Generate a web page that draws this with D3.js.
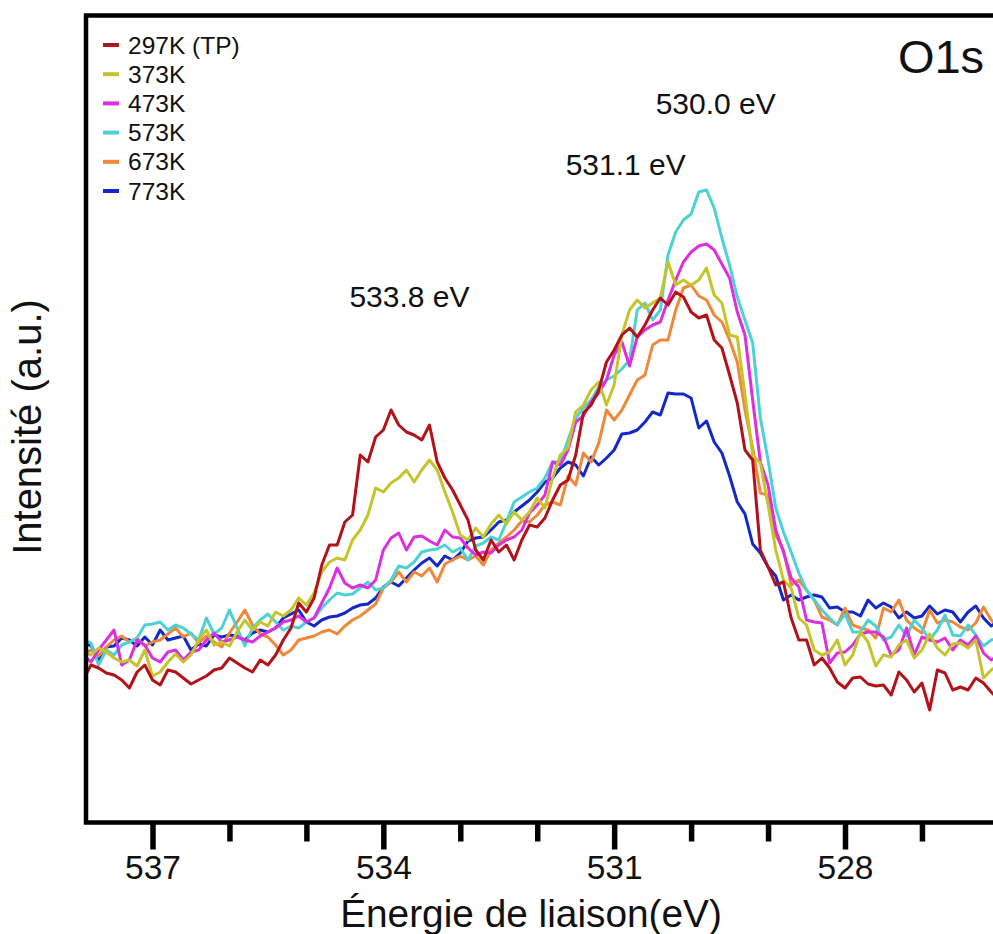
<!DOCTYPE html>
<html>
<head>
<meta charset="utf-8">
<script src="https://cdn.jsdelivr.net/npm/d3@7/dist/d3.min.js"></script>
<style>
  html, body { margin: 0; padding: 0; background: #fff; }
  svg { display: block; font-family: "Liberation Sans", Arial, Helvetica, sans-serif; }
</style>
</head>
<body>
<svg id="chart" width="993" height="934"></svg>
<script>
// O1s XPS spectra recorded after annealing at increasing temperatures.
// Binding energy grid: 537.9 eV down to 526.0 eV in 0.1 eV steps.
const energyStart = 537.9;
const energyStep = 0.1;

const seriesNames = ["297K (TP)", "373K", "473K", "573K", "673K", "773K"];
const seriesColors = ["#b3121a", "#c3c52a", "#dd2ee0", "#4cd2d4", "#f0883a", "#1228c8"];

// Intensities (a.u.)
const i297 = [
  142,157,154,149,147,142,134,150,157,142,
  137,152,150,144,138,142,146,152,154,164,
  159,154,150,162,157,167,182,194,219,210,
  224,257,277,277,300,307,367,360,385,392,
  412,397,390,387,382,397,360,344,332,317,
  302,272,262,282,270,277,262,282,297,295,
  304,322,337,342,367,409,417,432,460,472,
  487,494,485,497,512,524,517,530,525,510,
  504,507,482,474,447,419,372,362,272,255,
  237,240,204,182,182,157,164,154,140,134,
  144,145,138,136,137,127,150,142,130,139,
  112,152,149,132,135,132,144,139,130,122
];
const i373 = [
  170,167,174,170,164,160,162,156,172,146,
  150,160,168,160,167,182,192,177,180,176,
  190,202,192,200,196,210,206,212,224,217,
  229,250,260,264,262,282,292,307,334,330,
  339,344,352,340,352,362,352,330,310,287,
  282,294,285,298,307,298,310,302,310,324,
  314,344,367,374,410,417,432,440,417,437,
  487,512,522,514,519,524,560,537,542,537,
  542,554,527,519,487,485,427,367,359,317,
  272,242,234,204,197,172,167,170,182,157,
  167,190,180,156,167,165,177,182,164,172,
  188,174,167,178,179,174,182,144,152,157
];
const i473 = [
  167,160,172,182,192,157,162,182,177,164,
  160,170,172,162,170,172,182,189,180,182,
  185,182,180,186,190,194,200,202,206,200,
  204,219,234,254,239,234,237,234,242,272,
  284,289,272,285,286,281,277,292,285,284,
  274,267,270,269,277,282,285,292,309,317,
  327,360,357,372,400,406,420,429,442,467,
  480,456,485,492,497,500,522,542,560,570,
  576,578,572,558,544,510,487,422,360,337,
  292,270,244,235,202,200,199,159,169,170,
  177,188,190,190,185,167,172,194,167,185,
  182,180,184,172,182,177,186,169,162,167
];
const i573 = [
  182,179,157,172,167,177,180,184,197,198,
  200,192,197,194,188,182,204,188,194,212,
  194,176,194,202,208,200,192,196,194,200,
  204,214,222,229,227,228,234,240,232,234,
  242,256,254,260,270,272,273,277,270,274,
  262,276,279,285,282,300,320,325,330,334,
  344,360,360,382,404,414,422,435,442,446,
  453,462,512,519,502,512,567,590,602,608,
  630,632,614,584,557,525,502,479,404,362,
  314,290,270,249,232,222,212,204,197,208,
  190,190,202,196,182,185,197,186,202,194,
  182,192,207,187,186,197,187,176,182,184
];
const i673 = [
  167,172,166,175,182,186,180,184,176,180,
  182,188,194,185,189,179,186,180,175,189,
  200,212,197,188,185,177,167,172,182,184,
  186,190,192,188,196,202,206,212,218,234,
  240,250,240,250,246,254,240,258,262,266,
  262,266,257,272,279,285,292,301,300,307,
  317,320,317,346,337,369,360,379,412,402,
  412,427,442,447,477,482,482,512,534,537,
  526,522,507,500,482,460,412,374,329,327,
  287,272,237,242,232,222,205,202,197,214,
  197,194,192,184,214,210,222,202,194,189,
  212,199,202,200,195,192,199,215,202,195
];
const i773 = [
  177,177,162,175,176,184,182,176,185,177,
  192,182,184,186,172,178,176,187,185,187,
  186,182,189,192,190,194,204,208,212,200,
  196,202,205,206,209,214,217,218,224,235,
  240,236,244,252,259,264,256,266,262,269,
  281,284,285,292,300,302,310,316,322,330,
  340,344,354,360,357,346,365,357,364,372,
  388,389,392,400,410,407,429,428,428,424,
  394,401,380,369,346,320,308,278,269,255,
  246,222,227,222,225,227,225,214,215,210,
  210,206,222,214,219,215,204,210,204,206,
  216,208,212,210,200,210,216,204,196,202
];
const seriesValues = [i297, i373, i473, i573, i673, i773];

const majorTicks = [537, 534, 531, 528];
const minorTicks = [536, 535, 533, 532, 530, 529, 527];

const peakLabels = [
  { text: "530.0 eV", energy: 529.68, level: 708 },
  { text: "531.1 eV", energy: 530.85, level: 647 },
  { text: "533.8 eV", energy: 533.66, level: 515 }
];

// ---- layout ----
const svg = d3.select("#chart");
const plot = { left: 86, top: 15.5, bottom: 822.5, right: 1010 };

const x = d3.scaleLinear().domain([537, 528]).range([152.5, 845]);
const y = d3.scaleLinear().domain([0, 808]).range([822, 14]);

svg.append("defs").append("clipPath").attr("id", "plotClip")
  .append("rect")
  .attr("x", plot.left + 2).attr("y", plot.top + 2)
  .attr("width", plot.right - plot.left).attr("height", plot.bottom - plot.top - 4);

// spectra (highest temperature drawn first, room temperature on top)
const line = d3.line()
  .x((d, i) => x(energyStart - energyStep * i))
  .y(d => y(d));

const curves = svg.append("g").attr("clip-path", "url(#plotClip)");
for (let k = seriesValues.length - 1; k >= 0; k--) {
  curves.append("path")
    .datum(seriesValues[k])
    .attr("fill", "none")
    .attr("stroke", seriesColors[k])
    .attr("stroke-width", 3)
    .attr("stroke-linejoin", "round")
    .attr("d", line);
}

// frame (right side runs past the visible area)
svg.append("path")
  .attr("d", `M${plot.right},${plot.top}H${plot.left}V${plot.bottom}H${plot.right}`)
  .attr("fill", "none")
  .attr("stroke", "#000")
  .attr("stroke-width", 4.5);

// bottom axis: major ticks with labels, minor ticks without
const axisMajor = d3.axisBottom(x)
  .tickValues(majorTicks)
  .tickFormat(d3.format("d"))
  .tickSize(27)
  .tickPadding(6);
const gMajor = svg.append("g").attr("transform", `translate(0,${plot.bottom})`).call(axisMajor);
gMajor.select(".domain").remove();
gMajor.selectAll(".tick line").attr("stroke", "#000").attr("stroke-width", 5.5);
gMajor.selectAll(".tick text")
  .attr("fill", "#111")
  .style("font-size", "33.5px")
  .style("font-family", "'Liberation Sans', Arial, sans-serif");

const axisMinor = d3.axisBottom(x).tickValues(minorTicks).tickFormat("").tickSize(19);
const gMinor = svg.append("g").attr("transform", `translate(0,${plot.bottom})`).call(axisMinor);
gMinor.select(".domain").remove();
gMinor.selectAll(".tick line").attr("stroke", "#000").attr("stroke-width", 5.5);

// axis titles
svg.append("text")
  .attr("x", 531).attr("y", 927)
  .attr("text-anchor", "middle")
  .style("font-size", "38.8px")
  .attr("fill", "#111")
  .text("Énergie de liaison(eV)");

svg.append("text")
  .attr("transform", "translate(41,427) rotate(-90)")
  .attr("text-anchor", "middle")
  .style("font-size", "40px")
  .attr("fill", "#111")
  .text("Intensité (a.u.)");

// peak annotations
svg.selectAll(".peak")
  .data(peakLabels)
  .join("text")
  .attr("class", "peak")
  .attr("x", d => x(d.energy))
  .attr("y", d => y(d.level))
  .attr("text-anchor", "middle")
  .style("font-size", "30px")
  .attr("fill", "#111")
  .text(d => d.text);

// core level label
svg.append("text")
  .attr("x", 941).attr("y", 73)
  .attr("text-anchor", "middle")
  .style("font-size", "47px")
  .attr("fill", "#111")
  .text("O1s");

// legend
const legend = svg.append("g").attr("transform", "translate(103,45)");
const rows = legend.selectAll("g")
  .data(seriesNames)
  .join("g")
  .attr("transform", (d, i) => `translate(0,${i * 29.2})`);
rows.append("line")
  .attr("x1", 0).attr("x2", 16)
  .attr("stroke", (d, i) => seriesColors[i])
  .attr("stroke-width", 4);
rows.append("text")
  .attr("x", 25).attr("y", 8.5)
  .style("font-size", "24.5px")
  .attr("fill", "#111")
  .text(d => d);
</script>
</body>
</html>
